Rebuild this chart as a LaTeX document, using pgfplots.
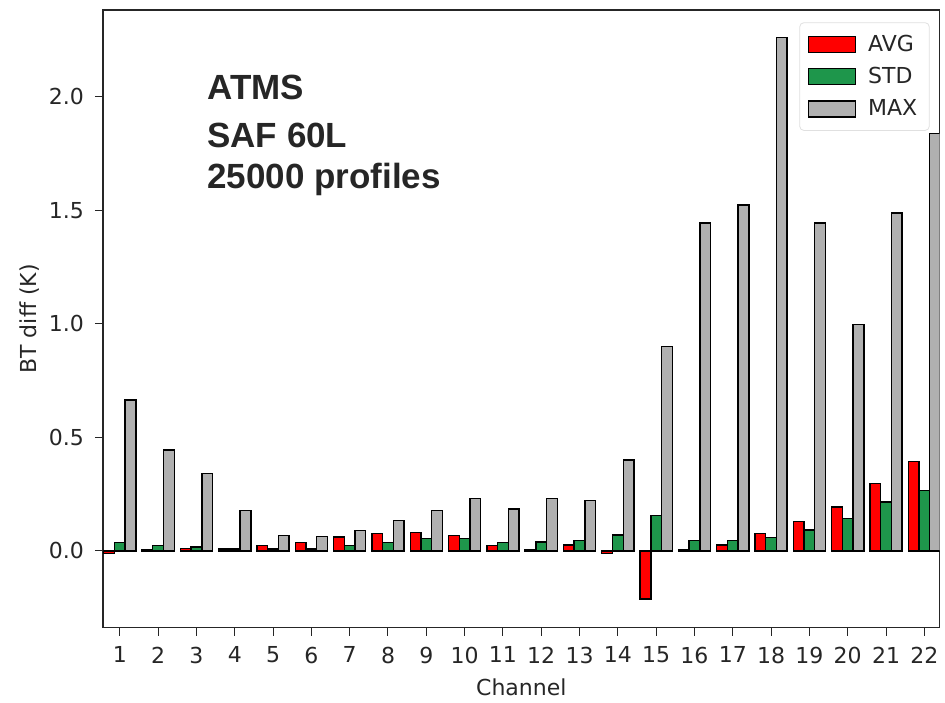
\documentclass[border=0pt]{standalone}
\usepackage{fontspec}
\setmainfont{DejaVu Sans}
\newfontfamily\arialb{Liberation Sans}[BoldFont={Liberation Sans Bold}]
\usepackage{pgfplots}
\pgfplotsset{compat=1.18}
\definecolor{cred}{HTML}{FF0000}
\definecolor{cgreen}{HTML}{1E964B}
\definecolor{cgrey}{HTML}{B0B0B0}
\definecolor{txt}{HTML}{262626}
\begin{document}
\begin{tikzpicture}
\begin{axis}[
  name=ax,
  scale only axis,
  width=418.5pt, height=309pt,
  xmin=0.56, xmax=22.4,
  ymin=-0.339, ymax=2.383,
  xtick={1,...,22},
  ytick={0,0.5,1,1.5,2},
  yticklabel style={/pgf/number format/fixed,/pgf/number format/fixed zerofill,/pgf/number format/precision=1},
  /pgf/number format/assume math mode=true,
  tick align=outside,
  major tick length=4pt,
  xtick pos=left, ytick pos=left,
  tick style={black!85, line width=0.5pt},
  axis line style={black!85, line width=0.6pt},
  ticklabel style={font=\fontsize{11pt}{13pt}\selectfont, text=txt},
  xticklabel style={yshift=-2pt},
  yticklabel style={xshift=-2pt},
  xlabel={Channel},
  ylabel={BT diff (K)},
  label style={font=\fontsize{11pt}{13pt}\selectfont, text=txt},
  xlabel style={yshift=-1pt},
  ylabel style={yshift=-2pt},
  bar width=0.28,
  legend style={at={(rel axis cs:0.988,0.98)}, anchor=north east,
    draw=black!12, rounded corners=2pt, fill=white,
    font=\fontsize{11pt}{13pt}\selectfont, text=txt,
    row sep=2.5pt, inner xsep=4pt, inner ysep=4pt,
    cells={anchor=west}},
  legend image code/.code={\draw[#1, bar shift=0pt, sharp corners] (0pt,-4pt) rectangle (23.5pt,4pt);},
]
\addplot[ybar, bar shift=-0.28, fill=cred, draw=black, line width=0.7pt] coordinates {
(1,-0.012) (2,0.003) (3,0.011) (4,0.008) (5,0.023) (6,0.037) (7,0.061) (8,0.076)
(9,0.081) (10,0.067) (11,0.023) (12,0.006) (13,0.025) (14,-0.012) (15,-0.213)
(16,0.005) (17,0.025) (18,0.076) (19,0.128) (20,0.194) (21,0.297) (22,0.393)};
\addlegendentry{\hspace*{4pt}AVG}
\addplot[ybar, bar shift=0, fill=cgreen, draw=black, line width=0.7pt] coordinates {
(1,0.037) (2,0.024) (3,0.017) (4,0.008) (5,0.008) (6,0.008) (7,0.023) (8,0.037)
(9,0.054) (10,0.054) (11,0.037) (12,0.039) (13,0.045) (14,0.069) (15,0.157)
(16,0.045) (17,0.045) (18,0.060) (19,0.091) (20,0.142) (21,0.216) (22,0.267)};
\addlegendentry{\hspace*{4pt}STD}
\addplot[ybar, bar shift=0.28, fill=cgrey, draw=black, line width=0.7pt] coordinates {
(1,0.664) (2,0.444) (3,0.340) (4,0.178) (5,0.068) (6,0.062) (7,0.089) (8,0.133)
(9,0.177) (10,0.231) (11,0.184) (12,0.230) (13,0.222) (14,0.400) (15,0.900)
(16,1.444) (17,1.524) (18,2.261) (19,1.444) (20,0.996) (21,1.488) (22,1.840)};
\addlegendentry{\hspace*{4pt}MAX}
\node[anchor=base west, inner sep=0pt, text=txt, font=\arialb\bfseries\fontsize{17.5pt}{20pt}\selectfont] at (rel axis cs:0.1243,0.8555) {ATMS};
\node[anchor=base west, inner sep=0pt, text=txt, font=\arialb\bfseries\fontsize{17.5pt}{20pt}\selectfont] at (rel axis cs:0.1243,0.7778) {SAF 60L};
\node[anchor=base west, inner sep=0pt, text=txt, font=\arialb\bfseries\fontsize{17.5pt}{20pt}\selectfont] at (rel axis cs:0.1243,0.7104) {25000 profiles};
\end{axis}
\path ([xshift=-51.5pt,yshift=-35.5pt]ax.south west) rectangle ([xshift=2.5pt,yshift=5pt]ax.north east);
\end{tikzpicture}
\end{document}
